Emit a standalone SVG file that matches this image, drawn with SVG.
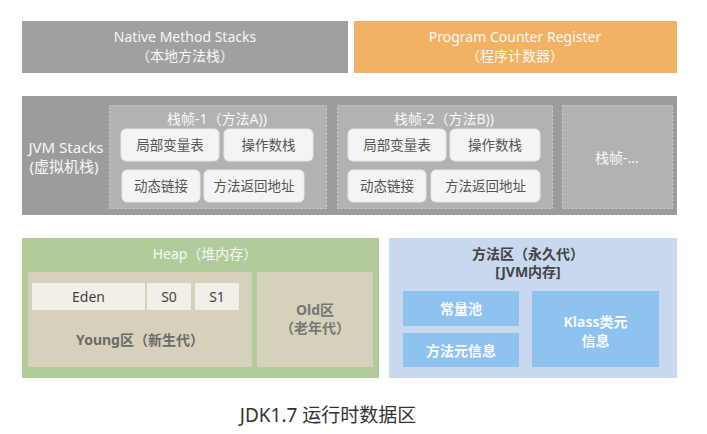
<svg xmlns="http://www.w3.org/2000/svg" width="707" height="434" viewBox="0 0 707 434">
<style>
text{font-family:"Noto Sans","Noto Sans CJK SC",sans-serif;text-anchor:middle;dominant-baseline:central}
.w{fill:#f7f7f7;font-size:14px}
.frame{fill:#b2b2b2;stroke:#d0d0d0;stroke-width:1;stroke-dasharray:2 2}
.cell{fill:#f4f4f4;stroke:#e6e6e6;stroke-width:1}
.ct{fill:#555;font-size:13.5px}
.sv{fill:#f1efe8}
.yb{fill:#d6d1ba}
.blue{fill:#8ec2ef}
.bt{fill:#f7faff;font-size:14px;font-weight:bold}
</style>
<g id="native">
<rect x="22" y="21" width="326" height="52" fill="#a0a0a0"/>
<text class="w" x="185" y="36">Native Method Stacks</text>
<text class="w" x="185" y="55">（本地方法栈）</text>
</g>
<g id="pc">
<rect x="354" y="21" width="323" height="52" fill="#f2b263"/>
<text class="w" x="515" y="36">Program Counter Register</text>
<text class="w" x="515" y="55">（程序计数器）</text>
</g>
<g id="jvmstacks">
<rect x="22" y="96" width="655" height="119" fill="#9c9c9c"/>
<text class="w" style="font-size:15px" x="66" y="147">JVM Stacks</text>
<text class="w" style="font-size:15px" x="64" y="166">(虚拟机栈)</text>
</g>
<g id="frame1">
<rect class="frame" x="109.5" y="105.5" width="217" height="103"/>
<text class="w" x="217" y="118">栈帧-1（方法A))</text>
<rect class="cell" x="121" y="129" width="98" height="32" rx="5"/>
<text class="ct" x="170" y="145">局部变量表</text>
<rect class="cell" x="224" y="129" width="89" height="32" rx="5"/>
<text class="ct" x="268.5" y="145">操作数栈</text>
<rect class="cell" x="122" y="170" width="78" height="32" rx="5"/>
<text class="ct" x="161" y="186">动态链接</text>
<rect class="cell" x="204" y="170" width="100" height="32" rx="5"/>
<text class="ct" x="254" y="186">方法返回地址</text>
</g>
<g id="frame2">
<rect class="frame" x="337.5" y="105.5" width="215" height="103"/>
<text class="w" x="444" y="118">栈帧-2（方法B))</text>
<rect class="cell" x="348" y="129" width="98" height="32" rx="5"/>
<text class="ct" x="397" y="145">局部变量表</text>
<rect class="cell" x="450" y="129" width="90" height="32" rx="5"/>
<text class="ct" x="495" y="145">操作数栈</text>
<rect class="cell" x="348" y="170" width="78" height="32" rx="5"/>
<text class="ct" x="387" y="186">动态链接</text>
<rect class="cell" x="431" y="170" width="109" height="32" rx="5"/>
<text class="ct" x="485.5" y="186">方法返回地址</text>
</g>
<g id="frame3">
<rect class="frame" x="562.5" y="105.5" width="110" height="103"/>
<text class="w" x="617" y="157">栈帧-...</text>
</g>
<g id="heap">
<rect x="22" y="238" width="357" height="140" fill="#b3cb9b"/>
<text class="w" x="205" y="253">Heap（堆内存）</text>
</g>
<g id="young">
<rect class="yb" x="28" y="272" width="224" height="95"/>
<rect class="sv" x="32" y="283" width="113" height="27"/>
<text fill="#444" font-size="14" x="88.5" y="296.5">Eden</text>
<rect class="sv" x="147" y="283" width="44" height="27"/>
<text fill="#444" font-size="14" x="169" y="296.5">S0</text>
<rect class="sv" x="195" y="283" width="44" height="27"/>
<text fill="#444" font-size="14" x="217" y="296.5">S1</text>
<text fill="#6b6b6b" font-size="14" font-weight="bold" x="140" y="339">Young区（新生代）</text>
</g>
<g id="old">
<rect class="yb" x="257" y="272" width="116" height="95"/>
<text fill="#777" font-size="14" font-weight="bold" x="315" y="309">Old区</text>
<text fill="#777" font-size="14" font-weight="bold" x="315" y="327">（老年代）</text>
</g>
<g id="methodarea">
<rect x="389" y="238" width="288" height="140" fill="#c9d7ef"/>
<text fill="#444" font-size="14" font-weight="bold" x="528" y="253">方法区（永久代）</text>
<text fill="#444" font-size="14" font-weight="bold" x="528" y="271">[JVM内存]</text>
</g>
<g id="pool">
<rect class="blue" x="403" y="291" width="116" height="35"/>
<text class="bt" x="461" y="308.5">常量池</text>
</g>
<g id="methodmeta">
<rect class="blue" x="403" y="333" width="116" height="34"/>
<text class="bt" x="461" y="350">方法元信息</text>
</g>
<g id="klass">
<rect class="blue" x="532" y="291" width="127" height="76"/>
<text class="bt" x="595.5" y="321">Klass类元</text>
<text class="bt" x="595.5" y="340">信息</text>
</g>
<g id="connectors"/>
<text fill="#333" font-size="19" x="328" y="415">JDK1.7 运行时数据区</text>
</svg>
